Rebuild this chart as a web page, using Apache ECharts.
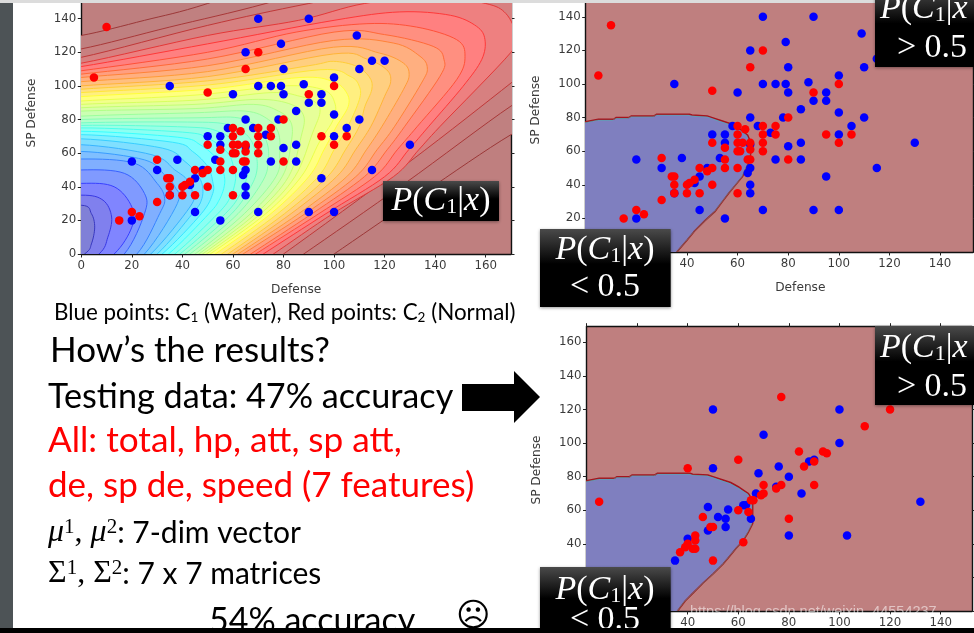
<!DOCTYPE html>
<html><head><meta charset="utf-8">
<style>html,body{margin:0;padding:0;background:#fff}#c{width:974px;height:633px}canvas{filter:blur(0.35px)}</style>
<script src="https://cdn.jsdelivr.net/npm/echarts@6/dist/echarts.min.js"></script>
</head><body><div id="c"></div>
<script>
// ---- data ----
const xTicks = [0,20,40,60,80,100,120,140,160];
const yTicksTrain = [0,20,40,60,80,100,120,140];
const yTicksTest = [0,20,40,60,80,100,120,140,160];

const trainWater = [[70,140],[90,140],[109,130],[79,125],[65,120],[115,115],[120,115],[80,110],[110,110],[100,105],[88,101],[35,100],[70,100],[75,100],[79,100],[60,95],[80,95],[95,95],[90,90],[95,90],[85,85],[100,83],[65,80],[78,80],[110,80],[58,75],[68,75],[105,75],[73,71],[50,70],[55,70],[100,70],[55,65],[65,64],[85,65],[130,65],[80,63],[20,55],[38,56],[53,56],[75,55],[85,55],[30,50],[48,50],[65,50],[115,50],[64,47],[45,45],[95,45],[43,41],[65,40],[35,35],[65,35],[45,25],[70,25],[90,25],[100,25],[20,20],[55,20]];
const trainNormal = [[10,135],[5,105],[70,120],[65,110],[100,100],[50,96],[90,95],[80,80],[60,75],[70,75],[75,75],[63,73],[60,70],[70,70],[75,70],[95,70],[105,70],[50,65],[60,65],[62,65],[65,65],[70,65],[100,65],[55,62],[65,61],[60,60],[61,60],[70,60],[30,56],[55,55],[64,55],[65,55],[80,55],[45,50],[50,50],[55,50],[60,50],[48,48],[34,45],[35,45],[43,43],[41,41],[35,40],[40,40],[50,40],[35,35],[40,35],[45,35],[60,35],[30,31],[20,25],[23,22.5],[15,20]];
const testWater = [[50,120],[100,120],[70,105],[100,100],[76,86],[50,85],[88,89],[90,90],[68,82],[80,80],[85,70],[67,70],[75,74],[48,62],[62,63],[63,63],[56,60.5],[132,65],[52,56],[55,55],[65,55],[55,50],[48,48],[80,45],[103,45],[40,43],[35,30]];
const testNormal = [[77,127.5],[120,120],[110,110],[84,95],[93.5,95],[95,94],[60,90],[40,85],[90,89],[86,86],[70,75],[77,75],[75,73],[90,75],[70,70],[69,69],[66,66],[65,66],[5,65],[60,60],[64,59],[46,56],[80,55],[50,50],[49,50],[43,45],[43,42],[62,41],[40,40],[39,38],[42,37],[43,37],[37,35],[50,30]];

const contourLevels = [1.0,0.985,0.96,0.92,0.89,0.86,0.83,0.80,0.77,0.74,0.71,0.68,0.65,0.62,0.59,0.56,0.53,0.50,0.47,0.44,0.41,0.38,0.35,0.32,0.29,0.26,0.23,0.20,0.16,0.12,0.08,0.04];
const contourPaths = [
 [[0,130],[25,139],[50,149],[100,175],[190,195],[195,90],[170,71],[135,36],[100,0]],
 [[0,122],[35,135],[73,149],[120,170],[185,165],[190,105],[170,88],[128,42],[88,0]],
 [[0,117],[50,136],[90,149],[140,163],[178,150],[185,120],[170,101.7],[130,55],[80,0]],
 [[0,113.5],[50,130],[86,139],[112,149],[140,153],[160,149],[168,143],[172,130],[170,120],[142,76],[133.5,62],[123.5,46],[99.5,24],[76,0]],
 [[0,111.5],[50,125],[100,139],[126,144],[146,142],[156.4,135.4],[159.7,127.5],[158.4,115.6],[151,99.7],[137.5,76],[129.5,62],[120,46],[96.8,24],[72,0]],
 [[0,109],[50,120],[85,132],[113,137],[132.6,135],[148.5,127.5],[151.8,117.6],[148.5,103.7],[133,76],[125,62],[116,46],[94,24],[69,0]],
 [[0,107],[50,116],[100,132],[120,130.5],[139.2,123.5],[143.5,115.6],[141.9,105.7],[128,76],[121,62],[112,46],[91.3,24],[67,0]],
 [[0,105],[50,112],[99.7,127],[123.4,125.5],[134,117.6],[136.9,110.6],[134.6,101.7],[124,76],[117,62],[108.6,46],[88.6,24],[64,0]],
 [[0,102.5],[50,108.5],[99.7,123],[118,119.5],[127.4,113.6],[129.7,106.7],[127.4,97.7],[119,76],[112.8,62],[105,46],[86,24],[62,0]],
 [[0,100],[50,105.5],[99.7,119],[112.9,116],[120.8,109.6],[122.4,102.7],[120,93.8],[114.6,76],[108.5,62],[101,46],[83,24],[60,0]],
 [[0,98],[50,103],[90,112],[99.7,114.6],[109,111.6],[114.2,104.7],[114.9,97.7],[112.2,87.8],[110,76],[104.5,62],[97.4,46],[80.4,24],[58,0]],
 [[0,96],[50,100.5],[94.4,109.6],[106.3,105.7],[110,99.7],[110,91.8],[105.5,76],[100,62],[93.7,46],[77.7,24],[55.5,0]],
 [[0,93.6],[50,98],[86.5,105],[99.7,102.5],[105,95.8],[105.6,87.8],[101,76],[96,62],[90,46],[75,24],[53,0]],
 [[0,91],[45,94.5],[80,100],[95.7,97.7],[100.3,89.8],[99.7,80],[94,66],[87,46],[73,24],[51,0]],
 [[0,89],[45,91.5],[75,96],[86.5,93.8],[93,89.8],[94.4,84],[91.5,72],[84.5,46],[71,24],[49.5,0]],
 [[0,87],[45,89],[70,92],[83,89],[88,82],[87,70],[82,46],[69,24],[48,0]],
 [[0,85],[45,86.5],[68,89],[78,85],[83,78],[83,66],[79.5,46],[67,24],[46.5,0]],
 [[0,82],[45,84],[65,85],[74,80],[78,72],[78.5,60],[77,46],[64.5,24],[45,0]],
 [[0,80],[45,81],[62,81],[70,75],[73.5,66],[74,56],[72,44],[62,24],[43,0]],
 [[0,78],[42,78.5],[58,77],[66,70],[69,60],[69.5,50],[67,40],[59.5,24],[41,0]],
 [[0,76.5],[42,75.5],[54,73],[62,65],[65,55],[65.5,46],[63,36],[57,24],[39,0]],
 [[0,75],[40,72.5],[50,69],[58,60],[60.5,50],[61,44],[59,34],[54,24],[37,0]],
 [[0,73],[38,69.5],[47,65],[54,56],[56.5,47],[56.5,40],[54.5,32],[50.5,24],[34.5,0]],
 [[0,71],[36,66.5],[44,61],[50,52],[52,43],[52,36],[47.5,24],[32,0]],
 [[0,68.5],[32,63],[41,55],[46,47],[48,40],[47.5,32],[44,24],[30,0]],
 [[0,65],[28,59],[37,50],[42,44],[44,36],[43,28],[27.5,0]],
 [[0,61],[25,56],[33,47],[37,40],[38,30],[25,0]],
 [[0,56.5],[21,54],[30,42],[33,33],[31,24],[22,0]],
 [[0,50],[17,48],[25,36],[25,24],[17,0]],
 [[0,42],[13,40],[20,28],[20,16],[13,0]],
 [[0,35],[8.6,32],[12,22],[10.5,10],[7,0]],
 [[0,29],[4,24],[5.3,16],[4,6],[1.3,0]]
];
const boundaryTrain = [[-5,77],[0,77.5],[5,79],[11,79],[12,80],[17,80],[18,81],[27,81],[28,82],[41,82],[42,81.5],[48,81],[50,80],[54,78],[57,76.5],[60,74],[62,72],[64,69.5],[65,66],[65.5,62],[65,57],[64,52],[62,45],[59,39.5],[56.5,35],[54,30],[51,24],[47,18.5],[43,12.5],[40,7],[36,0],[30,-8],[-5,-8]];
const boundaryTest = [[-5,77],[0,77.5],[5,79],[11,79],[12,80],[17,80],[18,81],[27,81],[28,82],[41,82],[42,81.5],[48,81],[50,80],[54,78],[57,76.5],[60,74],[62,72],[64,70],[65.7,66],[65.7,52],[64,47],[62,42],[59,37],[56.5,32.5],[54,28],[50,22],[46,16.5],[42,10.5],[39,6],[36,0],[30,-8],[-5,-8]];

// ---- styling helpers ----
const jetStops = [[0,[0,0,128]],[0.11,[0,0,255]],[0.35,[0,255,255]],[0.5,[128,255,128]],[0.65,[255,255,0]],[0.89,[255,0,0]],[1,[128,0,0]]];
function jet(v){for(let i=1;i<jetStops.length;i++){if(v<=jetStops[i][0]){const a=jetStops[i-1],b=jetStops[i],t=(v-a[0])/(b[0]-a[0]);return a[1].map((c,k)=>c+(b[1][k]-c)*t);}}return jetStops[jetStops.length-1][1];}
function mix(c,a){return 'rgb('+c.map(x=>Math.round(x*a+255*(1-a))).join(',')+')';}
// rounds a pixel-space contour into a curve for drawing
function curve(p){const o=[];for(let i=0;i<p.length-1;i++){const a=p[Math.max(i-1,0)],b=p[i],c=p[i+1],d=p[Math.min(i+2,p.length-1)];
 for(let k=0;k<8;k++){const t=k/8,t2=t*t,t3=t2*t;o.push([0,1].map(j=>0.5*(2*b[j]+(c[j]-a[j])*t+(2*a[j]-5*b[j]+4*c[j]-d[j])*t2+(3*b[j]-a[j]-3*c[j]+d[j])*t3)));}}
 o.push(p[p.length-1]);return o;}

const chart = echarts.init(document.getElementById('c'),null,{renderer:'canvas'});
const axisLine={lineStyle:{color:'#111',width:1.4}};
const tick={length:3.5,lineStyle:{color:'#222',width:1}};
const lab={color:'#3a3a3a',fontFamily:'DejaVu Sans',fontSize:11.8};
const nameStyle={color:'#3a3a3a',fontFamily:'DejaVu Sans',fontSize:12.2};
function xAx(gi,max,ticks,name,pad){return {type:'value',gridIndex:gi,min:0,max:max,position:'bottom',splitLine:{show:false},axisLine:Object.assign({onZero:false},axisLine),
 axisTick:Object.assign({customValues:ticks},tick),axisLabel:Object.assign({customValues:ticks,margin:6},lab),
 name:name,nameLocation:'middle',nameGap:30,nameTextStyle:Object.assign({padding:pad},nameStyle)};}
function yAx(gi,max,ticks){return {type:'value',gridIndex:gi,min:0,max:max,position:'left',splitLine:{show:false},axisLine:Object.assign({onZero:false},axisLine),
 axisTick:Object.assign({customValues:ticks},tick),axisLabel:Object.assign({customValues:ticks,margin:5},lab)};}
function yRight(gi,max,ticks){return {type:'value',gridIndex:gi,min:0,max:max,position:'right',splitLine:{show:false},axisLine:Object.assign({onZero:false},axisLine),axisTick:Object.assign({customValues:ticks},tick),axisLabel:{show:false}};}

function dots(name,data,color,xi,yi,z){return {type:'scatter',name:name,data:data,xAxisIndex:xi,yAxisIndex:yi,symbolSize:8.5,itemStyle:{color:color,opacity:1},silent:true,z:z};}
function region(pts,xi,yi){return {type:'custom',xAxisIndex:xi,yAxisIndex:yi,clip:true,silent:true,z:2,data:[0],encode:{x:0,y:0},
 renderItem:function(p,api){const q=pts.map(c=>api.coord(c));return {type:'group',children:[
  {type:'polygon',shape:{points:q},style:{fill:'#7f7fbf',stroke:'#a5141e',lineWidth:1.5}},
  {type:'polygon',x:-1,y:1,shape:{points:q},style:{fill:'none',stroke:'rgba(60,200,170,0.55)',lineWidth:0.8}}]};}};}

const bgFill=()=>new echarts.graphic.LinearGradient(0,0,0,1,[{offset:0,color:'#4a4a4a'},{offset:0.45,color:'#000'},{offset:1,color:'#000'}]);
function box(x,y,w,h){return {type:'rect',shape:{x,y,width:w,height:h},style:{fill:bgFill(),shadowBlur:3,shadowColor:'rgba(0,0,0,.4)',shadowOffsetY:1},z:100,silent:true};}
const pRich={i:{fontFamily:'Liberation Serif',fontStyle:'italic',fontSize:34,fill:'#fff'},n:{fontFamily:'Liberation Serif',fontSize:34,fill:'#fff'},s:{fontFamily:'Liberation Serif',fontSize:22,fill:'#fff',padding:[12,0,0,0]}};
function pText(x,y,closed,align){return {type:'text',x,y,z:101,silent:true,style:{text:'{i|P}{n|(}{i|C}{s|1}{n||}{i|x}'+(closed?'{n|)}':''),rich:pRich,align:align||'center',verticalAlign:'middle'}};}
function serif(x,y,t){return {type:'text',x,y,z:101,silent:true,style:{text:t,fontFamily:'Liberation Serif',fontSize:34,fill:'#fff',align:'center',verticalAlign:'middle'}};}
function slide(x,y,t,size,color){return {type:'text',x,y,z:50,silent:true,style:{text:t,fontFamily:'Lato',fontSize:size,fill:color||'#000',verticalAlign:'middle'}};}
function rotName(x,y){return {type:'text',x,y,rotation:Math.PI/2,z:40,silent:true,style:{text:'SP Defense',fontFamily:'DejaVu Sans',fontSize:12.2,fill:'#3a3a3a',align:'center',verticalAlign:'middle'}};}
const supRich={m:{fontFamily:'Liberation Serif',fontStyle:'italic',fontSize:32,fill:'#000'},g:{fontFamily:'Liberation Serif',fontSize:32,fill:'#000'},u:{fontFamily:'Liberation Serif',fontSize:21,fill:'#000',padding:[0,0,12,0]},t:{fontFamily:'Lato',fontSize:30,fill:'#000'}};
const legRich={t:{fontFamily:'Lato',fontSize:22.4,fill:'#000'},s:{fontFamily:'Lato',fontSize:13.5,fill:'#000',padding:[9,0,0,0]}};

chart.setOption({
 animation:false,
 backgroundColor:'#fff',
 tooltip:{show:false},
 grid:[
  {left:81.3,top:3,width:429.7,height:251,show:true,backgroundColor:'#bf7f7f',borderWidth:0},
  {left:585.7,top:3,width:387.3,height:249,show:true,backgroundColor:'#bf7f7f',borderWidth:0},
  {left:586.5,top:326.7,width:385.5,height:284.3,show:true,backgroundColor:'#bf7f7f',borderWidth:0}
 ],
 xAxis:[
  xAx(0,170,xTicks,'Defense',[0,0,0,0]),
  xAx(1,153,xTicks,'Defense',[0,0,0,42]),
  xAx(2,152.4,xTicks,'',[0,0,0,0]),
  {type:'value',gridIndex:2,min:0,max:152.4,position:'top',splitLine:{show:false},axisLine:Object.assign({onZero:false},axisLine),axisTick:Object.assign({customValues:xTicks},tick),axisLabel:{show:false}}
 ],
 yAxis:[
  yAx(0,149.3,yTicksTrain),
  yAx(1,148.2,yTicksTrain),
  yAx(2,169.3,yTicksTest),
  yRight(0,149.3,yTicksTrain),
  yRight(1,148.2,yTicksTrain),
  yRight(2,169.3,yTicksTest)
 ],
 series:[
  {type:'custom',xAxisIndex:0,yAxisIndex:0,clip:true,silent:true,z:2,data:contourLevels.map((v,i)=>[i]),encode:{x:0,y:0},
   renderItem:function(p,api){const i=api.value(0),c=jet(contourLevels[i]),path=contourPaths[i],n=path.length;
    const full=[[-20,path[0][1]-3]].concat(path,[[path[n-1][0]-14,-14]]).map(q=>api.coord(q));
    const pts=curve(full);pts.push(api.coord([-40,-40]));
    return {type:'polygon',shape:{points:pts},style:{fill:mix(c,0.5),stroke:mix(c,0.78),lineWidth:1}};}},
  dots('C1 Water',trainWater,'#0000ff',0,0,5),
  dots('C2 Normal',trainNormal,'#ff0000',0,0,6),
  region(boundaryTrain,1,1),
  dots('C1 Water',trainWater,'#0000ff',1,1,5),
  dots('C2 Normal',trainNormal,'#ff0000',1,1,6),
  region(boundaryTest,2,2),
  dots('C1 Water test',testWater,'#0000ff',2,2,5),
  dots('C2 Normal test',testNormal,'#ff0000',2,2,6)
 ],
 graphic:{elements:[
  {type:'rect',shape:{x:0,y:0,width:13,height:633},style:{fill:'#4d5356'},z:60,silent:true},
  {type:'rect',shape:{x:0,y:0,width:974,height:3},style:{fill:'#dcdcdc'},z:60,silent:true},
  rotName(32,113), rotName(536,110), rotName(537,470),
  box(383,181,116,40), pText(441,201,true),
  box(540,229,130.7,78), pText(605,250,true), serif(605,287,'< 0.5'),
  box(875,-12,99,79), pText(880,9,false,'left'), serif(932,48,'> 0.5'),
  box(540,567,130.7,70), pText(605,590,true), serif(605,620,'< 0.5'),
  box(875,326,99,79), pText(880,348,false,'left'), serif(932,387,'> 0.5'),
  {type:'text',x:54,y:313,z:50,silent:true,style:{text:'{t|Blue points: C}{s|1}{t| (Water), Red points: C}{s|2}{t| (Normal)}',rich:legRich,verticalAlign:'middle'}},
  slide(50,351,'How\u2019s the results?',35),
  slide(48,397,'Testing data: 47% accuracy',34.2),
  slide(48,441,'All: total, hp, att, sp att,',35.2,'#ff0000'),
  slide(48,486,'de, sp de, speed (7 features)',35,'#ff0000'),
  {type:'text',x:48,y:533,z:50,silent:true,style:{text:'{m|\u03bc}{u|1}{g|, }{m|\u03bc}{u|2}{t|: 7-dim vector}',rich:supRich,verticalAlign:'middle'}},
  {type:'text',x:48,y:574,z:50,silent:true,style:{text:'{g|\u03a3}{u|1}{g|, \u03a3}{u|2}{t|: 7 x 7 matrices}',rich:supRich,verticalAlign:'middle'}},
  slide(209,621,'54% accuracy',34),
  {type:'text',x:456,y:617,z:50,silent:true,style:{text:'\u2639',fontFamily:'DejaVu Sans',fontSize:33,fill:'#000',verticalAlign:'middle'}},
  {type:'polygon',shape:{points:[[462,384],[514,384],[514,371],[540,397],[514,423],[514,411],[462,411]]},style:{fill:'#000'},z:50,silent:true},
  {type:'text',x:690,y:612,z:105,silent:true,style:{text:'https://blog.csdn.net/weixin_44554237',fontFamily:'Liberation Sans',fontSize:14.5,fill:'rgba(255,255,255,0.55)',verticalAlign:'middle'}},
  {type:'rect',shape:{x:0,y:628,width:974,height:5},style:{fill:'#000'},z:110,silent:true}
 ]}
});
</script></body></html>
